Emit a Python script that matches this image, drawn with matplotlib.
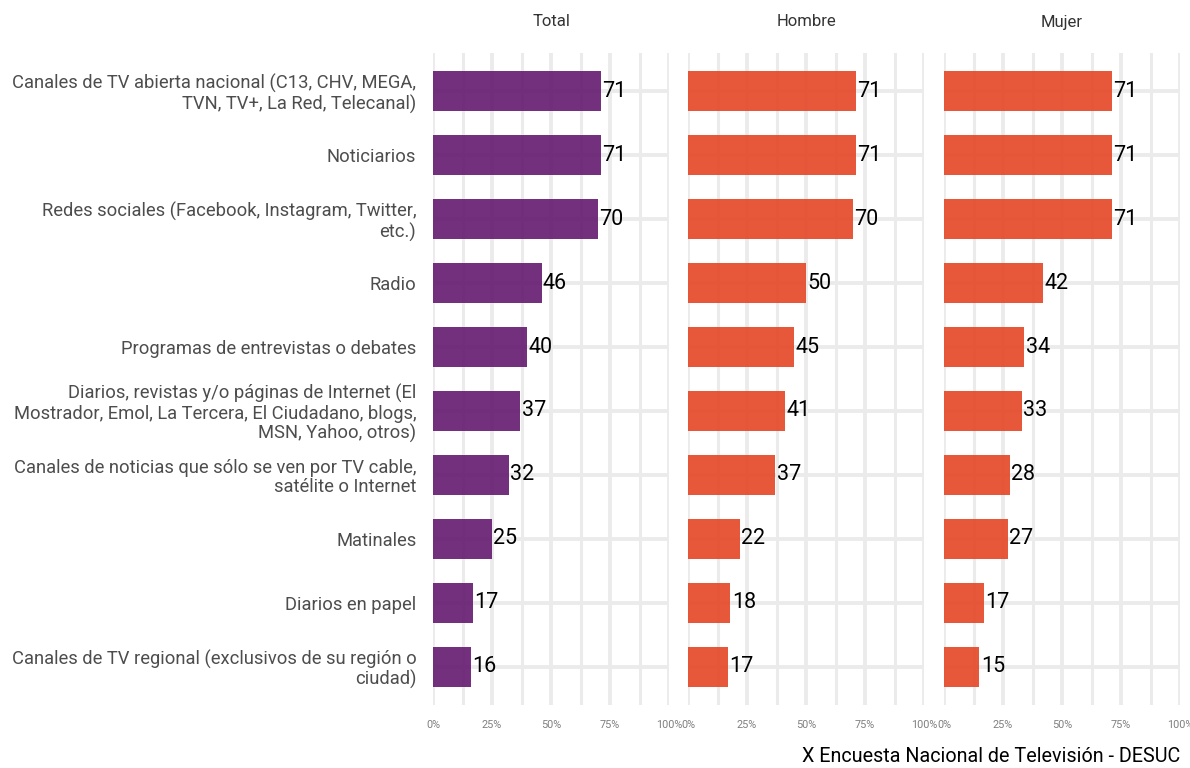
import numpy as np
import matplotlib.pyplot as plt
from matplotlib.ticker import MultipleLocator, FuncFormatter

plt.rcParams["font.family"] = ["Roboto", "DejaVu Sans"]

# --- data ---
categories = [
    "Canales de TV abierta nacional (C13, CHV, MEGA,\nTVN, TV+, La Red, Telecanal)",
    "Noticiarios",
    "Redes sociales (Facebook, Instagram, Twitter,\netc.)",
    "Radio",
    "Programas de entrevistas o debates",
    "Diarios, revistas y/o páginas de Internet (El\nMostrador, Emol, La Tercera, El Ciudadano, blogs,\nMSN, Yahoo, otros)",
    "Canales de noticias que sólo se ven por TV cable,\nsatélite o Internet",
    "Matinales",
    "Diarios en papel",
    "Canales de TV regional (exclusivos de su región o\nciudad)",
]
panels = ["Total", "Hombre", "Mujer"]
total = [71, 71, 70, 46, 40, 37, 32, 25, 17, 16]
hombre = [71, 71, 70, 50, 45, 41, 37, 22, 18, 17]
mujer = [71, 71, 71, 42, 34, 33, 28, 27, 17, 15]
caption = "X Encuesta Nacional de Televisión - DESUC"

colors = ["#63196f", "#e54626", "#e54626"]

W, H = 1190, 768
fig = plt.figure(figsize=(W / 100, H / 100), dpi=100)

lefts = [433, 688, 944]
pw = 236
top, bottom = 53, 705
y = np.arange(len(categories))

for k, (name, vals) in enumerate(zip(panels, [total, hombre, mujer])):
    ax = fig.add_axes([lefts[k] / W, 1 - bottom / H, pw / W, (bottom - top) / H])
    ax.set_xlim(0, 100)
    ax.set_ylim(len(categories) - 0.4, -0.6)
    ax.xaxis.set_major_locator(MultipleLocator(25))
    ax.xaxis.set_minor_locator(MultipleLocator(12.5))
    ax.xaxis.set_major_formatter(FuncFormatter(lambda v, p: f"{v:.0f}%"))
    ax.set_yticks(y)

    # grid: wide light line with thin darker centre
    ax.grid(which="major", axis="both", color="#ebebeb", lw=2.8, zorder=0)
    ax.grid(which="minor", axis="x", color="#ebebeb", lw=2.2, zorder=0)
    xt = np.arange(0, 100.1, 12.5)
    ax.vlines(xt, -0.6, len(categories) - 0.4, color="#d2d2d2", lw=0.7, zorder=0.5)
    ax.set_axisbelow(True)

    ax.barh(y, vals, height=0.63, color=colors[k], alpha=0.9, zorder=2)
    for yi, v in zip(y, vals):
        ax.text(v + 0.6, yi, f"{v:.0f}", va="center", ha="left",
                fontsize=15.5, color="black", zorder=3)

    for s in ax.spines.values():
        s.set_visible(False)
    ax.tick_params(axis="both", which="both", length=0)
    ax.tick_params(axis="x", labelsize=7.8, labelcolor="#7f7f7f", pad=11)
    if k == 0:
        ax.set_yticklabels(categories, fontsize=13.2, color="#4d4d4d",
                           linespacing=1.1)
        ax.tick_params(axis="y", pad=12)
    else:
        ax.set_yticklabels([])

    fig.text((lefts[k] + pw / 2) / W, 1 - 22 / H, name, ha="center",
             va="center", fontsize=12, color="#333333")

fig.text(1180 / W, 1 - 757 / H, caption, ha="right", va="center",
         fontsize=14.2, color="black")

fig.savefig("out.png", dpi=100)
